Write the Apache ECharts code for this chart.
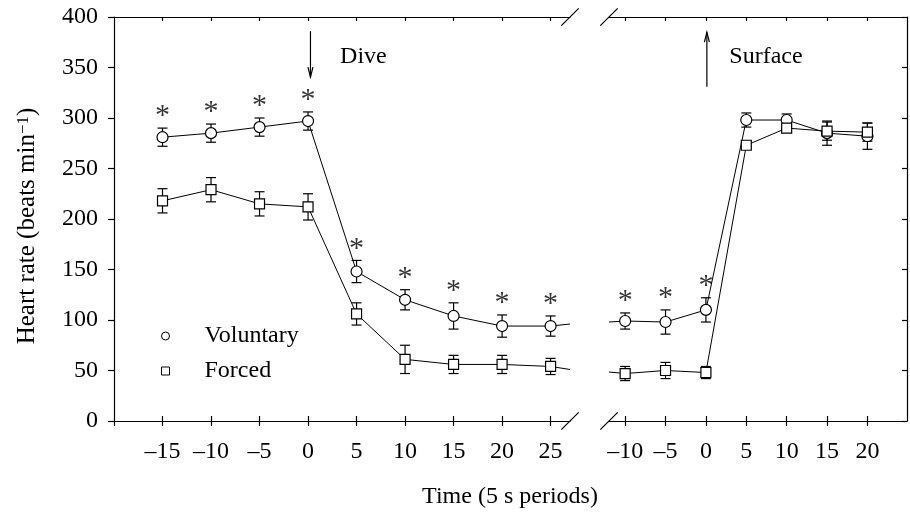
<!DOCTYPE html>
<html><head><meta charset="utf-8">
<script src="https://cdn.jsdelivr.net/npm/echarts@6/dist/echarts.min.js"></script>
<style>html,body{margin:0;padding:0;background:#fff}#c{width:910px;height:515px}</style>
</head><body><div id="c"></div>
<script>
const FONT = '"Liberation Serif","Times New Roman",serif';

// ---------- data: before the axis break (aligned on the dive) ----------
const timeBefore = [-15, -10, -5, 0, 5, 10, 15, 20, 25];
const voluntaryBefore = [281, 285, 291, 297, 148, 120, 104, 94, 94];
const voluntaryBeforeSE = [9, 9, 9, 9, 11, 10, 13, 11, 10];
const forcedBefore = [218, 229, 215, 212, 106, 61, 56, 56, 54];
const forcedBeforeSE = [12, 12, 12, 13, 11, 14, 9, 9, 8];
const voluntaryBeforeSig = [1, 1, 1, 1, 1, 1, 1, 1, 1];
const breakEndTime = 27;           // lines run on to the break
const voluntaryAtBreakEnd = 96;
const forcedAtBreakEnd = 51;

// ---------- data: after the axis break (aligned on surfacing) ----------
const timeAfter = [-10, -5, 0, 5, 10, 15, 20];
const voluntaryAfter = [99, 98, 110, 298, 298, 285, 282];
const voluntaryAfterSE = [8, 12, 12, 7, 6, 12, 13];
const forcedAfter = [47, 50, 48, 273, 290, 287, 286];
const forcedAfterSE = [7, 8, 6, 4, 4, 9, 9];
const voluntaryAfterSig = [1, 1, 1, 0, 0, 0, 0];
const breakStartTime = -12;        // lines come in from the break
const voluntaryAtBreakStart = 98;
const forcedAtBreakStart = 48.5;

// ---------- tick labels ----------
const ticksBefore = [-15, -10, -5, 0, 5, 10, 15, 20, 25];
const ticksAfter = [-10, -5, 0, 5, 10, 15, 20];
const yMin = 0, yMax = 400, yStep = 50;

// label nudges (style only, px) to mimic the original typesetting
const shiftBefore = {'-15': -13, '-10': -8, '-5': -1, '0': 1, '5': 0, '10': 1, '15': 0, '20': 1, '25': 0};
const shiftAfter = {'-10': -3, '-5': -2, '0': 9, '5': 10, '10': 11, '15': 19, '20': 10};

const rich = {};
function richKey(s) {
  const k = 's' + (s < 0 ? 'm' + (-s) : 'p' + s);
  if (!rich[k]) rich[k] = {fontFamily: FONT, fontSize: 24, color: '#000', lineHeight: 24,
    padding: s < 0 ? [0, -2 * s, 0, 0] : [0, 0, 0, 2 * s]};
  return k;
}
function fmt(shift) {
  return v => {
    const t = (v < 0 ? '\u2013' + (-v) : '' + v);
    return '{' + richKey(shift[String(v)] || 0) + '|' + t + '}';
  };
}

function xAxes(grid, min, max, ticks, extraTick, shift) {
  const base = {type: 'value', gridIndex: grid, min, max, splitLine: {show: false}};
  return [
    Object.assign({}, base, {position: 'bottom',
      axisLine: {show: true, onZero: false, lineStyle: {color: '#000', width: 1.2}},
      axisTick: {show: true, inside: false, length: 5, customValues: extraTick.concat(ticks), lineStyle: {color: '#000', width: 1.2}},
      axisLabel: {show: true, customValues: ticks, margin: 19, formatter: fmt(shift), rich,
        fontFamily: FONT, fontSize: 24, color: '#000', lineHeight: 24}}),
    Object.assign({}, base, {position: 'bottom',
      axisLine: {show: false, onZero: false},
      axisTick: {show: true, inside: true, length: 5, customValues: ticks, lineStyle: {color: '#000', width: 1.2}},
      axisLabel: {show: false}}),
    Object.assign({}, base, {position: 'top',
      axisLine: {show: true, onZero: false, lineStyle: {color: '#000', width: 1.2}},
      axisTick: {show: true, inside: true, length: 4, customValues: ticks, lineStyle: {color: '#000', width: 1.2}},
      axisLabel: {show: false}})
  ];
}

function errSeries(xAxisIndex, yAxisIndex, xs, ys, es) {
  return {
    type: 'custom', xAxisIndex, yAxisIndex, z: 2, silent: true,
    data: xs.map((x, i) => [x, ys[i] - es[i], ys[i] + es[i]]),
    encode: {x: 0, y: [1, 2]},
    renderItem(params, api) {
      const x = api.value(0);
      const lo = api.coord([x, api.value(1)]);
      const hi = api.coord([x, api.value(2)]);
      const w = 5, st = {stroke: '#000', lineWidth: 1.2};
      return {type: 'group', children: [
        {type: 'line', shape: {x1: lo[0], y1: lo[1], x2: hi[0], y2: hi[1]}, style: st},
        {type: 'line', shape: {x1: lo[0] - w, y1: lo[1], x2: lo[0] + w, y2: lo[1]}, style: st},
        {type: 'line', shape: {x1: hi[0] - w, y1: hi[1], x2: hi[0] + w, y2: hi[1]}, style: st}
      ]};
    }
  };
}

function lineSeries(name, xAxisIndex, yAxisIndex, xs, ys, symbol, size, pre, post) {
  const data = xs.map((x, i) => [x, ys[i]]);
  if (pre) data.unshift({value: pre, symbol: 'none'});
  if (post) data.push({value: post, symbol: 'none'});
  return {
    type: 'line', name, xAxisIndex, yAxisIndex, z: 3, data,
    symbol, symbolSize: size, showSymbol: true,
    itemStyle: {color: '#fff', borderColor: '#000', borderWidth: 1.2},
    lineStyle: {color: '#000', width: 1}, emphasis: {disabled: true}
  };
}

function sigSeries(xAxisIndex, yAxisIndex, xs, ys, es, sig) {
  const data = [];
  xs.forEach((x, i) => { if (sig[i]) data.push([x, ys[i] + es[i]]); });
  return {
    type: 'scatter', xAxisIndex, yAxisIndex, z: 4, silent: true, data,
    symbol: 'circle', symbolSize: 1, itemStyle: {color: 'rgba(0,0,0,0)'},
    label: {show: true, position: 'top', distance: 0, formatter: '*',
      fontFamily: FONT, fontSize: 30, color: '#000', lineHeight: 22}
  };
}

const option = {
  animation: false,
  backgroundColor: '#fff',
  title: {text: 'Time (5 s periods)', left: 510, textAlign: 'center', top: 485, padding: 0,
    textStyle: {fontFamily: FONT, fontSize: 24, fontWeight: 'normal', color: '#000', lineHeight: 24}},
  legend: {
    orient: 'vertical', left: 156, top: 319, itemWidth: 8, itemHeight: 8, itemGap: 11,
    selectedMode: false,
    data: [{name: 'Voluntary', icon: 'circle'}, {name: 'Forced', icon: 'rect'}],
    itemStyle: {color: '#fff', borderColor: '#000', borderWidth: 1},
    textStyle: {fontFamily: FONT, fontSize: 24, color: '#000', lineHeight: 24, padding: [0, 0, 0, 30]}
  },
  grid: [
    {left: 114, top: 17, width: 456, height: 404},
    {left: 609, top: 17, width: 298, height: 404}
  ],
  xAxis: [].concat(
    xAxes(0, -20, breakEndTime, ticksBefore, [-20], shiftBefore),
    xAxes(1, breakStartTime, 24.9, ticksAfter, [], shiftAfter)
  ),
  yAxis: [
    {type: 'value', gridIndex: 0, position: 'left', min: yMin, max: yMax, interval: yStep,
      splitLine: {show: false},
      axisLine: {show: true, onZero: false, lineStyle: {color: '#000', width: 1.2}},
      axisTick: {show: true, inside: false, length: 6, lineStyle: {color: '#000', width: 1.2}},
      axisLabel: {margin: 16, fontFamily: FONT, fontSize: 24, color: '#000'},
      name: 'Heart rate (beats min{sup|\u22121})', nameLocation: 'middle', nameGap: 74, nameRotate: 90,
      nameTextStyle: {fontFamily: FONT, fontSize: 25, color: '#000', lineHeight: 25, padding: [0, 14, 0, 0],
        rich: {sup: {fontFamily: FONT, fontSize: 17, color: '#000', verticalAlign: 'top', lineHeight: 15}}}},
    {type: 'value', gridIndex: 1, position: 'right', min: yMin, max: yMax, interval: yStep,
      splitLine: {show: false},
      axisLine: {show: true, onZero: false, lineStyle: {color: '#000', width: 1.2}},
      axisTick: {show: true, inside: true, length: 5, lineStyle: {color: '#000', width: 1.2}},
      axisLabel: {show: false}}
  ],
  series: [
    errSeries(0, 0, timeBefore, voluntaryBefore, voluntaryBeforeSE),
    errSeries(0, 0, timeBefore, forcedBefore, forcedBeforeSE),
    errSeries(3, 1, timeAfter, voluntaryAfter, voluntaryAfterSE),
    errSeries(3, 1, timeAfter, forcedAfter, forcedAfterSE),
    lineSeries('Voluntary', 0, 0, timeBefore, voluntaryBefore, 'circle', 11, null, [breakEndTime, voluntaryAtBreakEnd]),
    lineSeries('Forced', 0, 0, timeBefore, forcedBefore, 'rect', 10, null, [breakEndTime, forcedAtBreakEnd]),
    lineSeries('Voluntary', 3, 1, timeAfter, voluntaryAfter, 'circle', 11, [breakStartTime, voluntaryAtBreakStart], null),
    lineSeries('Forced', 3, 1, timeAfter, forcedAfter, 'rect', 10, [breakStartTime, forcedAtBreakStart], null),
    sigSeries(0, 0, timeBefore, voluntaryBefore, voluntaryBeforeSE, voluntaryBeforeSig),
    sigSeries(3, 1, timeAfter, voluntaryAfter, voluntaryAfterSE, voluntaryAfterSig)
  ]
};

const chart = echarts.init(document.getElementById('c'), null, {renderer: 'canvas'});
chart.setOption(option);

// annotations and axis-break marks, placed through the axes
const pL = (x, y) => chart.convertToPixel({xAxisIndex: 0, yAxisIndex: 0}, [x, y]);
const pR = (x, y) => chart.convertToPixel({xAxisIndex: 3, yAxisIndex: 1}, [x, y]);
const st = {stroke: '#000', lineWidth: 1.2, fill: null};
const g = [];
function slash(c) {
  g.push({type: 'line', shape: {x1: c[0] - 8.7, y1: c[1] + 8.7, x2: c[0] + 8.7, y2: c[1] - 8.7}, style: st});
}
slash(pL(breakEndTime, yMin)); slash(pL(breakEndTime, yMax));
slash(pR(breakStartTime, yMin)); slash(pR(breakStartTime, yMax));
function arrow(a, b) {
  const dir = b[1] > a[1] ? -1 : 1;
  g.push({type: 'line', shape: {x1: a[0], y1: a[1], x2: b[0], y2: b[1]}, style: st});
  g.push({type: 'polyline', shape: {points: [[b[0] - 2.5, b[1] + dir * 10], [b[0], b[1]], [b[0] + 2.5, b[1] + dir * 10]]}, style: st});
}
arrow(pL(0.25, 386), pL(0.25, 340.5));
arrow(pR(0.12, 331), pR(0.12, 385));
const dv = pL(3.3, 361), sf = pR(2.9, 361);
g.push({type: 'text', x: dv[0], y: dv[1], style: {text: 'Dive', fontFamily: FONT, fontSize: 24, fill: '#000', verticalAlign: 'middle'}});
g.push({type: 'text', x: sf[0], y: sf[1], style: {text: 'Surface', fontFamily: FONT, fontSize: 24, fill: '#000', verticalAlign: 'middle'}});
chart.setOption({graphic: g});
</script></body></html>
